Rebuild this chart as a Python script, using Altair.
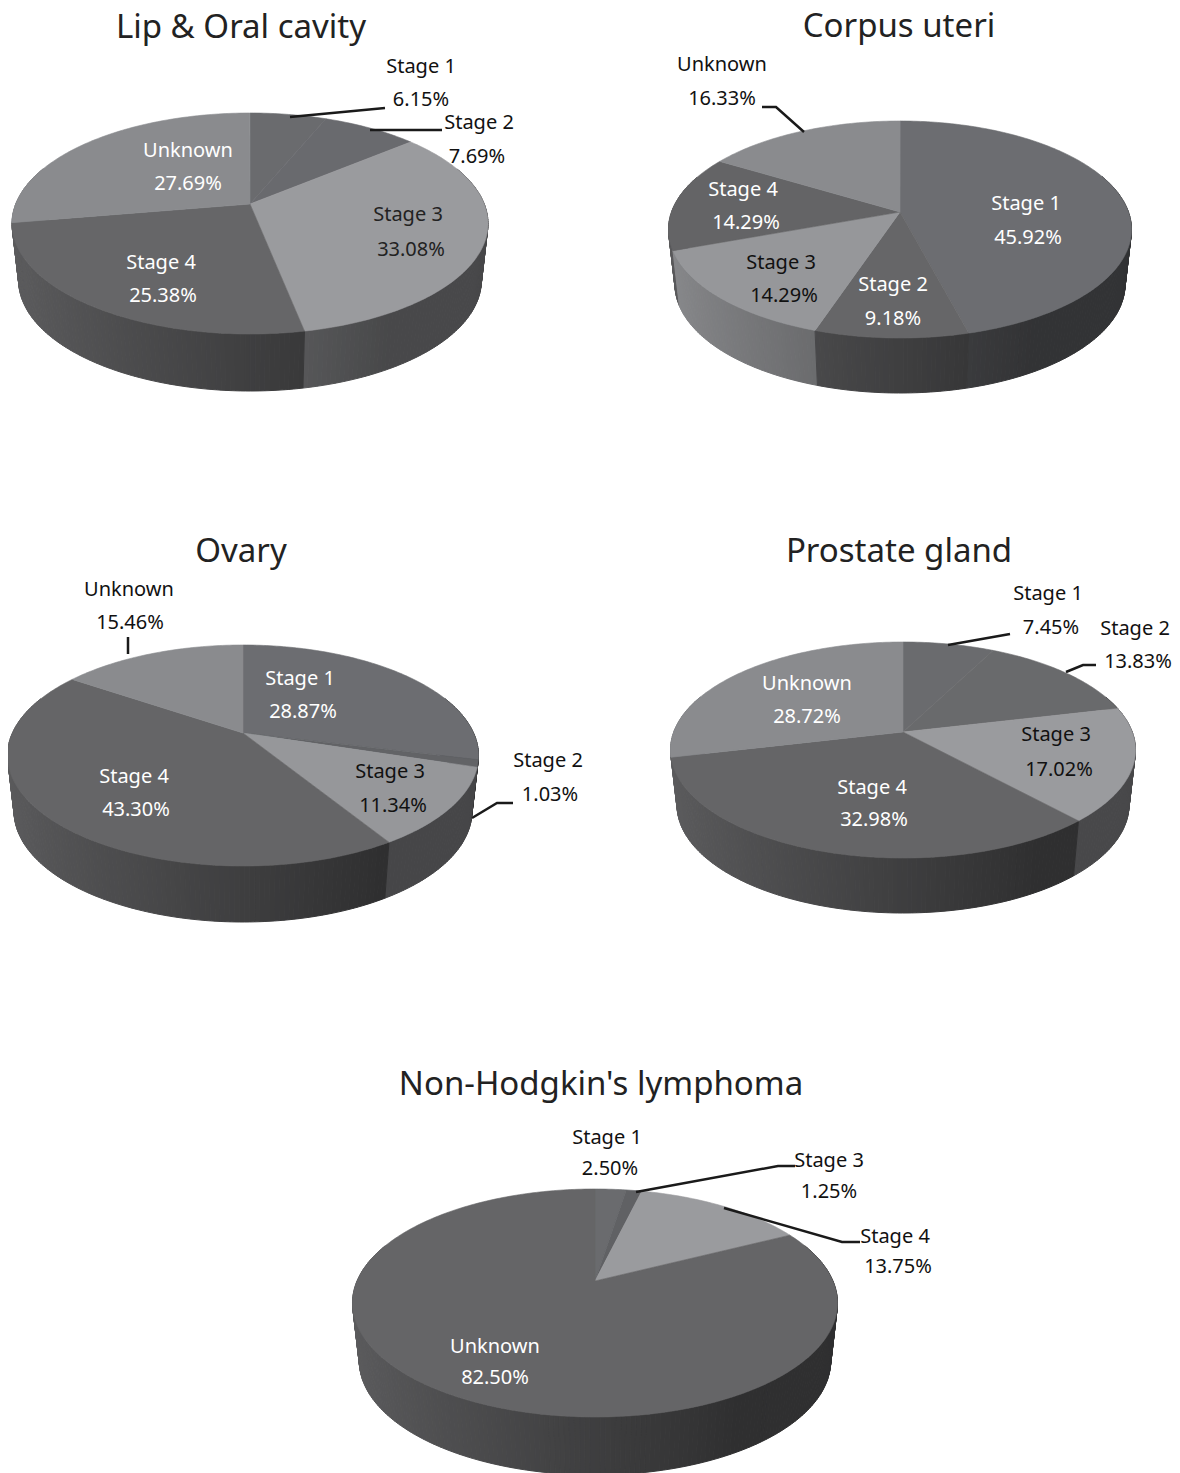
import math
import altair as alt

# ---- chart values ----
titles = ["Lip & Oral cavity", "Corpus uteri", "Ovary", "Prostate gland", "Non-Hodgkin's lymphoma"]
lip_stages = ["Stage 1", "Stage 2", "Stage 3", "Stage 4", "Unknown"]
lip_values = [6.15, 7.69, 33.08, 25.38, 27.69]
corpus_stages = ["Stage 1", "Stage 2", "Stage 3", "Stage 4", "Unknown"]
corpus_values = [45.92, 9.18, 14.29, 14.29, 16.33]
ovary_stages = ["Stage 1", "Stage 2", "Stage 3", "Stage 4", "Unknown"]
ovary_values = [28.87, 1.03, 11.34, 43.30, 15.46]
prostate_stages = ["Stage 1", "Stage 2", "Stage 3", "Stage 4", "Unknown"]
prostate_values = [7.45, 13.83, 17.02, 32.98, 28.72]
nhl_stages = ["Stage 1", "Stage 3", "Stage 4", "Unknown"]
nhl_values = [2.50, 1.25, 13.75, 82.50]

# ---- layout and style (page pixels) ----
W, H = 1164, 1465
OFF = 8
# apex x, apex y, left, right, back edge, front edge, wall depth
geom = [
    (250, 204, 13, 489, 113, 334, 57),
    (900, 212, 669, 1132, 121, 338, 55),
    (243, 733, 8, 479, 645, 866, 56),
    (903, 732, 670, 1135, 642, 858, 55),
    (595, 1281, 351, 836, 1189, 1417, 58),
]
fills = [
    ["#6a6b6e", "#696a6e", "#9a9b9e", "#666668", "#8a8b8e"],
    ["#6c6d71", "#666668", "#96979a", "#646466", "#8a8b8e"],
    ["#6c6d71", "#626366", "#96979a", "#656567", "#8a8b8e"],
    ["#6a6b6e", "#696a6c", "#9a9b9e", "#656567", "#8a8b8e"],
    ["#6a6b6e", "#606164", "#9a9b9e", "#656567"],
]
title_pos = [(241, 28), (899, 27), (241, 552), (899, 552), (601, 1085)]
# per slice: name centre, value centre, colour
label_pos = [
    [(421, 67, 421, 100, "#111"), (479, 123, 477, 157, "#111"), (408, 215, 411, 250, "#222"),
     (161, 263, 163, 296, "#fff"), (188, 151, 188, 184, "#fff")],
    [(1026, 204, 1028, 238, "#fff"), (893, 285, 893, 319, "#fff"), (781, 263, 784, 296, "#111"),
     (743, 190, 746, 223, "#fff"), (722, 65, 722, 99, "#111")],
    [(300, 679, 303, 712, "#fff"), (548, 761, 550, 795, "#111"), (390, 772, 393, 806, "#111"),
     (134, 777, 136, 810, "#fff"), (129, 590, 130, 623, "#111")],
    [(1048, 594, 1051, 628, "#111"), (1135, 629, 1138, 662, "#111"), (1056, 735, 1059, 770, "#111"),
     (872, 788, 874, 820, "#fff"), (807, 684, 807, 717, "#fff")],
    [(607, 1138, 610, 1169, "#111"), (829, 1161, 829, 1192, "#111"), (895, 1237, 898, 1267, "#111"),
     (495, 1347, 495, 1378, "#fff")],
]
leaders = [
    [(290, 117), (385, 108)],
    [(370, 130), (442, 130)],
    [(762, 107), (776, 107), (804, 132)],
    [(128, 637), (128, 654)],
    [(472, 818), (497, 803), (513, 803)],
    [(948, 645), (1010, 634)],
    [(1066, 672), (1083, 665), (1096, 665)],
    [(636, 1192), (778, 1166), (795, 1166)],
    [(724, 1208), (842, 1242), (860, 1242)],
]
FONT = "Noto Sans"
SQUEEZE = 0.972


def shade(hex_colour, f):
    r, g, b = (int(hex_colour[i:i + 2], 16) for i in (1, 3, 5))
    return "#%02x%02x%02x" % (int(r * f), int(g * f), int(b * f))


def make_projector(g):
    ax, ay, left, right, back, front, _ = g
    up, down = ay - back, front - ay
    A = 2 * up * down / (up + down)
    k = A / up - 1
    B = (right - left) / 2 * math.sqrt(1 - k * k)

    def project(t, drop=0.0, squeeze=1.0):
        u, v = math.sin(t), math.cos(t)
        w = 1 + k * v
        return [ax + squeeze * B * u / w, ay - A * v / w + drop]

    return project


all_stages = [lip_stages, corpus_stages, ovary_stages, prostate_stages, nhl_stages]
all_values = [lip_values, corpus_values, ovary_values, prostate_values, nhl_values]

tops, walls, texts = [], [], []
for g, stages, values, cols, labs in zip(geom, all_stages, all_values, fills, label_pos):
    project = make_projector(g)
    depth = g[6]
    apex = [g[0], g[1]]
    cum = 0.0
    pie_walls = []
    for stage, val, col, lab in zip(stages, values, cols, labs):
        a0 = cum / 100 * 2 * math.pi
        cum += val
        a1 = cum / 100 * 2 * math.pi
        n = max(2, int((a1 - a0) / math.radians(1.0)))
        ts = [a0 + (a1 - a0) * i / n for i in range(n + 1)]
        ring = [apex] + [project(t) for t in ts] + [apex]
        tops.append({"type": "Feature", "geometry": {"type": "Polygon", "coordinates": [ring]},
                     "properties": {"fill": col}})
        for t0, t1 in zip(ts[:-1], ts[1:]):
            vm = math.cos((t0 + t1) / 2)
            if vm > 0.35:
                continue
            um = math.sin((t0 + t1) / 2)
            f = 0.47 + 0.45 * min(1.0, max(0.0, (0.5 - um) / 1.5))
            quad = [project(t0), project(t1), project(t1, depth, SQUEEZE),
                    project(t0, depth, SQUEEZE), project(t0)]
            pie_walls.append((vm, {"type": "Feature",
                                   "geometry": {"type": "Polygon", "coordinates": [quad]},
                                   "properties": {"fill": shade(col, f)}}))
        texts.append({"x": lab[0], "y": lab[1], "t": stage, "c": lab[4]})
        texts.append({"x": lab[2], "y": lab[3], "t": f"{val:.2f}%", "c": lab[4]})
    pie_walls.sort(key=lambda item: -item[0])  # back strips first, front strips over them
    walls.extend(item[1] for item in pie_walls)

title_rows = [{"x": p[0], "y": p[1], "t": t} for t, p in zip(titles, title_pos)]
leader_rows = [{"x": x, "y": y, "id": i, "o": j}
               for i, line in enumerate(leaders) for j, (x, y) in enumerate(line)]

xs = alt.Scale(domain=[OFF, OFF + W], nice=False, zero=False)
ys = alt.Scale(domain=[OFF + H, OFF], nice=False, zero=False)
X = alt.X("x:Q", scale=xs, axis=None)
Y = alt.Y("y:Q", scale=ys, axis=None)


def geo_layer(rows, width):
    return (
        alt.Chart(alt.Data(values=rows))
        .mark_geoshape(strokeWidth=width)
        .encode(fill=alt.Fill("properties.fill:N", scale=None),
                stroke=alt.Stroke("properties.fill:N", scale=None))
        .project(type="identity", scale=1, translate=[-OFF, -OFF])
    )


wall_layer = geo_layer(walls, 1)
top_layer = geo_layer(tops, 0.6)

leader_layer = (
    alt.Chart(alt.Data(values=leader_rows))
    .mark_line(color="#1a1a1a", strokeWidth=2.5)
    .encode(x=X, y=Y, detail="id:N", order="o:Q")
)
label_layer = (
    alt.Chart(alt.Data(values=texts))
    .mark_text(font=FONT, fontSize=20, align="center", baseline="middle")
    .encode(x=X, y=Y, text="t:N", color=alt.Color("c:N", scale=None))
)
title_layer = (
    alt.Chart(alt.Data(values=title_rows))
    .mark_text(font=FONT, fontSize=33, align="center", baseline="middle", color="#222")
    .encode(x=X, y=Y, text="t:N")
)

chart = (
    alt.layer(wall_layer, top_layer, leader_layer, label_layer, title_layer)
    .properties(width=W, height=H, padding=0, autosize=alt.AutoSizeParams(type="none"), background="#ffffff")
    .configure_view(stroke=None)
)
chart.save("out.html", embed_options={"renderer": "svg", "actions": False})
